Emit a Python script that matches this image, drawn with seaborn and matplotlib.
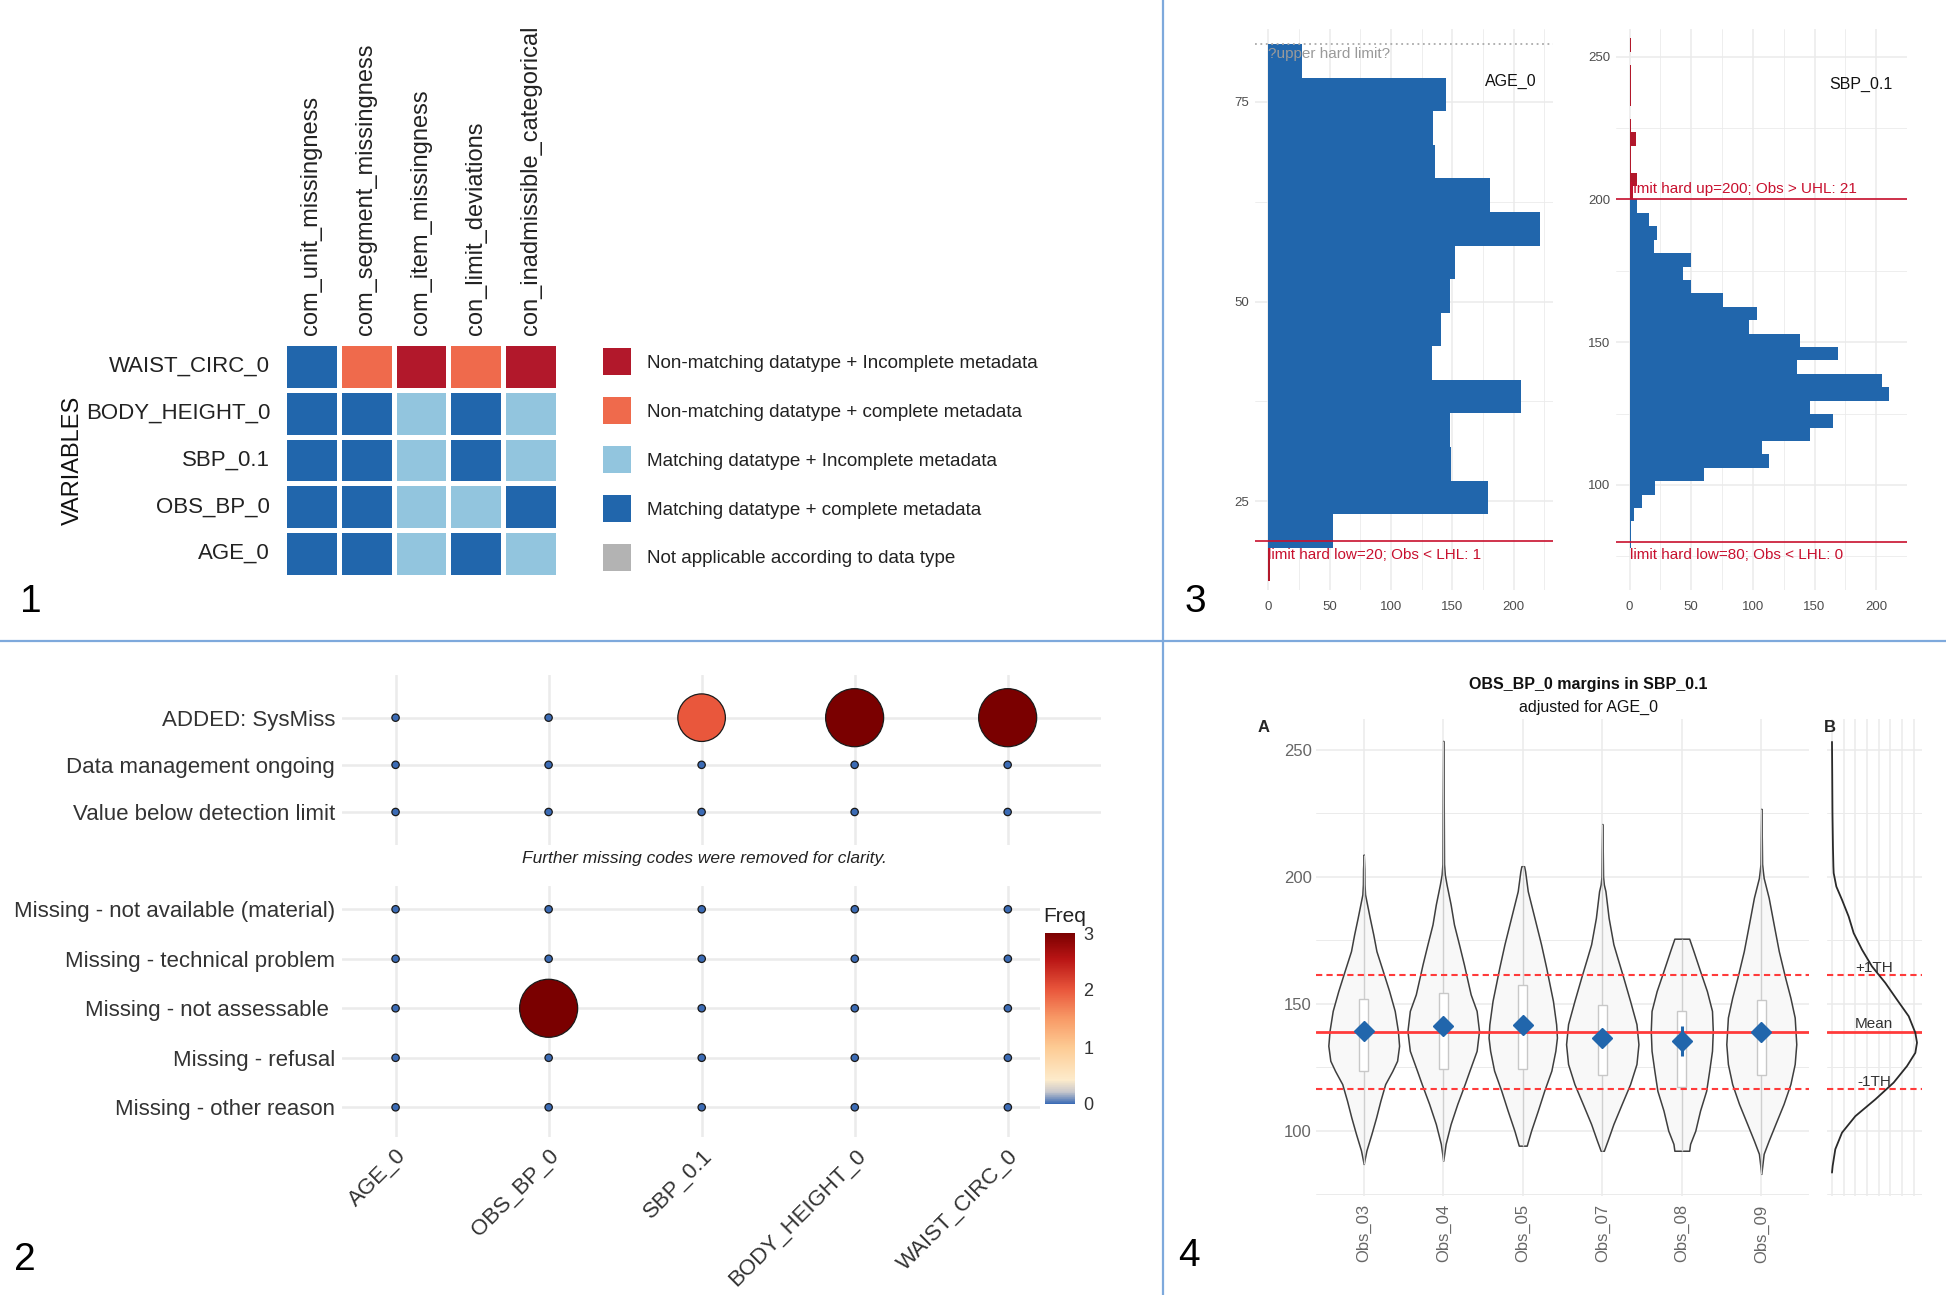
import numpy as np
import pandas as pd
import matplotlib
matplotlib.use("Agg")
import matplotlib.pyplot as plt
import seaborn as sns
from matplotlib.colors import ListedColormap, LinearSegmentedColormap, Normalize
from matplotlib.lines import Line2D
from matplotlib.patches import Patch
import matplotlib.cm as cm

# ---------------- DATA ----------------
# Panel 1: data-type / metadata status matrix
status_cols = ["com_unit_missingness", "com_segment_missingness", "com_item_missingness",
               "con_limit_deviations", "con_inadmissible_categorical"]
status_rows = ["WAIST_CIRC_0", "BODY_HEIGHT_0", "SBP_0.1", "OBS_BP_0", "AGE_0"]
status_codes = [[3, 1, 0, 1, 0],
                [3, 3, 2, 3, 2],
                [3, 3, 2, 3, 2],
                [3, 3, 2, 2, 3],
                [3, 3, 2, 3, 2]]
status_labels = ["Non-matching datatype + Incomplete metadata",
                 "Non-matching datatype + complete metadata",
                 "Matching datatype + Incomplete metadata",
                 "Matching datatype + complete metadata",
                 "Not applicable according to data type"]
status_colors = ["#B2182B", "#EF6A4C", "#92C5DE", "#2166AC", "#B3B3B3"]

# Panel 2: missing codes frequency
miss_vars = ["AGE_0", "OBS_BP_0", "SBP_0.1", "BODY_HEIGHT_0", "WAIST_CIRC_0"]
miss_codes_top = ["ADDED: SysMiss", "Data management ongoing", "Value below detection limit"]
miss_freq_top = [[0, 0, 2, 3, 3],
                 [0, 0, 0, 0, 0],
                 [0, 0, 0, 0, 0]]
miss_codes_bottom = ["Missing - not available (material)", "Missing - technical problem",
                     "Missing - not assessable ", "Missing - refusal", "Missing - other reason"]
miss_freq_bottom = [[0, 0, 0, 0, 0],
                    [0, 0, 0, 0, 0],
                    [0, 3, 0, 0, 0],
                    [0, 0, 0, 0, 0],
                    [0, 0, 0, 0, 0]]

# Panel 3: histograms
age_edges = [19.2, 23.4, 27.6, 31.8, 36.0, 40.2, 44.4, 48.6, 52.8, 57.0, 61.2, 65.4, 69.6, 73.8, 78.0, 82.2]
age_counts = [53, 179, 149, 148, 206, 133, 141, 148, 152, 221, 181, 136, 134, 145, 27]
age_low_edges = [15.0, 19.2]
age_low_counts = [1]
age_lhl, age_uhl_guess = 20, 82.2

sbp_edges_in = [77.8, 82.5, 87.2, 91.9, 96.6, 101.3, 106.0, 110.7, 115.4, 120.1, 124.8, 129.5, 134.2,
                138.9, 143.6, 148.3, 153.0, 157.7, 162.4, 167.1, 171.8, 176.5, 181.2, 185.9, 190.6,
                195.3, 200.0]
sbp_counts_in = [1, 1, 4, 10, 21, 60, 113, 107, 146, 165, 146, 210, 205, 136, 169, 138, 97, 103,
                 76, 50, 43, 50, 20, 22, 16, 6]
sbp_edges_out = [200.0, 204.7, 209.4, 214.1, 218.8, 223.5, 228.2, 232.9, 237.6, 242.3, 247.0, 251.7, 256.4]
sbp_counts_out = [3, 6, 1, 1, 5, 1, 0, 1, 1, 1, 0, 1]
sbp_lhl, sbp_uhl = 80, 200

# Panel 4: observer margins
obs_names = ["Obs_03", "Obs_04", "Obs_05", "Obs_07", "Obs_08", "Obs_09"]
obs_mean = [139.1, 141.2, 141.7, 136.7, 135.2, 138.8]
obs_ci = [2.4, 2.6, 2.6, 2.9, 5.9, 2.5]
obs_q1 = [123.4, 124.3, 124.3, 122.1, 117.4, 122.1]
obs_q3 = [151.8, 154.3, 157.4, 149.4, 147.2, 151.4]
violin_y = [
    [208.7, 203.0, 197.0, 193.0, 189.1, 183.8, 177.3, 170.7, 162.9, 155.0, 147.2, 139.3, 133.5, 127.6, 123.6, 118.4, 111.9, 105.3, 98.8, 92.3, 87.0],
    [253.4, 230.0, 205.0, 200.8, 196.9, 189.1, 181.2, 173.4, 165.5, 157.7, 153.7, 147.2, 139.3, 131.5, 123.7, 118.4, 110.6, 102.7, 94.9, 88.3],
    [204.1, 202.1, 194.3, 183.8, 173.4, 164.2, 157.7, 151.1, 141.9, 136.7, 131.5, 123.7, 115.8, 108.0, 100.1, 94.2],
    [220.7, 210.0, 200.0, 196.9, 194.3, 183.8, 173.4, 168.1, 160.3, 151.1, 142.0, 134.1, 126.3, 118.4, 110.6, 102.7, 96.2, 92.2],
    [175.6, 170.7, 162.9, 155.0, 147.2, 139.3, 131.5, 123.7, 115.8, 108.0, 100.1, 94.9, 92.2],
    [226.7, 215.0, 205.0, 202.1, 199.5, 191.7, 181.2, 170.7, 160.3, 152.4, 144.6, 134.1, 126.3, 118.4, 110.6, 102.7, 96.2, 91.0, 83.1],
]
violin_w = [
    [0.0, 0.008, 0.01, 0.017, 0.042, 0.076, 0.12, 0.16, 0.24, 0.32, 0.39, 0.43, 0.445, 0.42, 0.36, 0.27, 0.21, 0.156, 0.097, 0.034, 0.0],
    [0.0, 0.006, 0.01, 0.02, 0.042, 0.093, 0.135, 0.198, 0.26, 0.316, 0.345, 0.42, 0.45, 0.42, 0.33, 0.27, 0.177, 0.093, 0.03, 0.0],
    [0.017, 0.03, 0.063, 0.147, 0.23, 0.295, 0.337, 0.38, 0.42, 0.43, 0.41, 0.36, 0.27, 0.19, 0.105, 0.05],
    [0.0, 0.006, 0.01, 0.02, 0.04, 0.08, 0.14, 0.19, 0.265, 0.35, 0.43, 0.455, 0.43, 0.35, 0.245, 0.14, 0.067, 0.02],
    [0.093, 0.147, 0.23, 0.316, 0.38, 0.39, 0.38, 0.345, 0.307, 0.23, 0.17, 0.105, 0.093],
    [0.0, 0.006, 0.01, 0.02, 0.03, 0.093, 0.156, 0.22, 0.30, 0.366, 0.42, 0.44, 0.42, 0.366, 0.28, 0.177, 0.093, 0.03, 0.0],
]
overall_mean, th_upper, th_lower = 138.8, 161.2, 116.3
dens_y = [253.0, 240.0, 225.0, 212.0, 204.0, 201.4, 196.1, 190.9, 184.3, 177.8, 171.3, 164.7, 158.2,
          151.6, 145.1, 138.6, 134.7, 130.7, 125.5, 119.0, 112.4, 105.8, 99.3, 92.8, 86.2, 83.6]
dens_x = [0.0, 0.05, 0.1, 0.2, 0.3, 0.36, 0.93, 2.14, 3.57, 4.64, 6.42, 8.56, 11.42, 13.92, 16.42,
          17.84, 18.2, 17.84, 16.06, 13.2, 9.28, 5.0, 2.14, 0.71, 0.14, 0.0]

# ---------------- STYLE ----------------
sns.set_theme(style="white")
plt.rcParams["font.family"] = ["Liberation Sans", "DejaVu Sans"]

W, H = 1946, 1295
fig = plt.figure(figsize=(W / 100, H / 100), dpi=100)
BLUE = "#2166AC"
RED = "#B2182B"
GRID = "#EBEBEB"
TXT = "#4D4D4D"


def add_ax(x0, y0, x1, y1):
    return fig.add_axes([x0 / W, 1 - y1 / H, (x1 - x0) / W, (y1 - y0) / H])


def clean(ax):
    for s in ax.spines.values():
        s.set_visible(False)
    ax.tick_params(length=0)
    ax.set_xlabel("")
    ax.set_ylabel("")


# ---------------- PANEL 1 ----------------
ax1 = add_ax(284, 343, 558, 577)
status_df = pd.DataFrame(status_codes, index=status_rows, columns=status_cols)
sns.heatmap(status_df, ax=ax1, cmap=ListedColormap(status_colors), vmin=-0.5, vmax=4.5,
            cbar=False, linewidths=2.2, linecolor="white")
ax1.xaxis.tick_top()
ax1.set_xticklabels(status_cols, rotation=90, fontsize=17, color="#222222")
ax1.set_yticklabels(status_rows, rotation=0, fontsize=16, color="#222222")
ax1.tick_params(axis="x", length=0, pad=6)
ax1.tick_params(axis="y", length=0, pad=10)
ax1.set_xlabel("")
ax1.set_ylabel("VARIABLES", fontsize=17, color="#111111")
ax1.yaxis.set_label_coords(-0.73, 0.5)

fs = 13.6
em = fs * 100 / 72
sq = 27.5
hh = (sq / em - 0.245) / 0.65
handles = [Patch(facecolor=c, edgecolor="none") for c in status_colors]
leg = fig.legend(handles, status_labels, loc="upper left", bbox_to_anchor=(602.8 / W, 1 - 348 / H),
                 frameon=False, fontsize=fs, handlelength=28 / em, handleheight=hh,
                 handletextpad=16 / em, labelspacing=(48.9 - sq) / em, borderpad=0, borderaxespad=0)
for t in leg.get_texts():
    t.set_color("#222222")

# ---------------- PANEL 3 ----------------
def hist_panel(ax, edges, counts, red_edges, red_counts, xlim, ylim, yticks, yminor):
    centers = np.array(edges[:-1]) + np.diff(edges) / 2
    sns.histplot(y=centers, weights=counts, bins=edges, color=BLUE, alpha=1, linewidth=0, ax=ax)
    rc = np.array(red_edges[:-1]) + np.diff(red_edges) / 2
    sns.histplot(y=rc, weights=red_counts, bins=red_edges, color=RED, alpha=1, linewidth=0, ax=ax)
    ax.set_xlim(*xlim)
    ax.set_ylim(*ylim)
    ax.set_xticks([0, 50, 100, 150, 200])
    ax.set_xticks([25, 75, 125, 175, 225], minor=True)
    ax.set_yticks(yticks)
    ax.set_yticks(yminor, minor=True)
    ax.grid(True, which="major", color=GRID, lw=1.1)
    ax.grid(True, which="minor", color=GRID, lw=0.6)
    ax.set_axisbelow(True)
    clean(ax)
    ax.tick_params(which="both", length=0)
    ax.tick_params(axis="x", labelsize=9.5, labelcolor=TXT, pad=8)
    ax.tick_params(axis="y", labelsize=9.5, labelcolor=TXT, pad=4)


ax3a = add_ax(1255, 29, 1553, 590)
hist_panel(ax3a, age_edges, age_counts, age_low_edges, age_low_counts, (-11, 232), (13.9, 84.1),
           [25, 50, 75], [37.5, 62.5])
ax3a.axhline(age_lhl, color="#C8102E", lw=1.2, zorder=4)
ax3a.axhline(age_uhl_guess, color="#AAAAAA", lw=1.3, ls=(0, (1, 2)), zorder=4)
ax3a.text(0, age_uhl_guess - 0.3, "?upper hard limit?", color="#9A9A9A", fontsize=11, va="top", ha="left")
ax3a.text(219, 77.5, "AGE_0", color="#111111", fontsize=11.5, ha="right", va="center")
ax3a.text(0, age_lhl - 0.8, "limit hard low=20; Obs < LHL: 1", color="#C8102E", fontsize=11, va="top", ha="left")

ax3b = add_ax(1616, 29, 1907, 590)
hist_panel(ax3b, sbp_edges_in, sbp_counts_in, sbp_edges_out, sbp_counts_out, (-11, 221), (63.2, 259.7),
           [100, 150, 200, 250], [75, 125, 175, 225])
ax3b.axhline(sbp_uhl, color="#C8102E", lw=1.2, zorder=4)
ax3b.axhline(sbp_lhl, color="#C8102E", lw=1.2, zorder=4)
ax3b.text(0, sbp_uhl + 1.2, "limit hard up=200; Obs > UHL: 21", color="#C8102E", fontsize=11, va="bottom", ha="left")
ax3b.text(0, sbp_lhl - 2.2, "limit hard low=80; Obs < LHL: 0", color="#C8102E", fontsize=11, va="top", ha="left")
ax3b.text(213.5, 240.4, "SBP_0.1", color="#111111", fontsize=11.5, ha="right", va="center")

# ---------------- PANEL 2 ----------------
cmap_freq = LinearSegmentedColormap.from_list(
    "freq", [(0, "#3B6BB5"), (0.07, "#C9C8CC"), (0.14, "#FDEBCB"), (0.33, "#FDCB94"),
             (0.5, "#F89A66"), (0.667, "#E9573C"), (0.85, "#B81414"), (1, "#7A0000")])


def long_df(codes, freq):
    rows = []
    for i, c in enumerate(codes):
        for j, v in enumerate(miss_vars):
            rows.append(dict(code=c, var=v, Freq=freq[i][j]))
    return pd.DataFrame(rows)


def dot_panel(ax, codes, freq, xlim, ylim):
    df = long_df(codes, freq)
    sns.scatterplot(data=df, x="var", y="code", hue="Freq", size="Freq", hue_norm=(0, 3),
                    size_norm=(0, 3), sizes=(28, 1745), palette=cmap_freq, edgecolor="#1a1a1a",
                    linewidth=0.9, legend=False, ax=ax, zorder=3)
    ax.set_xlim(*xlim)
    ax.set_ylim(*ylim)
    ax.grid(True, color=GRID, lw=1.8)
    ax.set_axisbelow(True)
    clean(ax)
    ax.tick_params(axis="y", labelsize=16, labelcolor="#333333", pad=5)


ax2t = add_ax(342, 675, 1101, 845)
dot_panel(ax2t, miss_codes_top, miss_freq_top, (-0.35, 4.61), (2.70, -0.905))
ax2t.tick_params(axis="x", labelbottom=False)

ax2b = add_ax(342, 886, 1040, 1137)
dot_panel(ax2b, miss_codes_bottom, miss_freq_bottom, (-0.35, 4.21), (4.6, -0.47))
ax2b.tick_params(axis="x", labelsize=16, labelcolor="#333333", pad=6)
for lab in ax2b.get_xticklabels():
    lab.set_rotation(45)
    lab.set_ha("right")
    lab.set_va("top")
    lab.set_rotation_mode("anchor")

fig.text(704 / W, 1 - 859 / H, "Further missing codes were removed for clarity.", style="italic",
         fontsize=12.5, ha="center", va="center", color="#222222")

cax = add_ax(1045, 933, 1075, 1104)
cb = fig.colorbar(cm.ScalarMappable(norm=Normalize(0, 3), cmap=cmap_freq), cax=cax, ticks=[0, 1, 2, 3])
cb.outline.set_visible(False)
cax.tick_params(length=0, labelsize=13, labelcolor="#333333", pad=6)
fig.text(1043 / W, 1 - 916 / H, "Freq", fontsize=15, ha="left", va="center", color="#222222")

# ---------------- PANEL 4 ----------------
axA = add_ax(1316, 719, 1809, 1196)
pos = np.arange(len(obs_names))
for i in pos:
    vy = np.array(violin_y[i])
    vw = np.array(violin_w[i])
    axA.vlines(i, vy.min(), vy.max(), color="#CFCFCF", lw=1.0, zorder=2)
    axA.fill_betweenx(vy, i - vw, i + vw, facecolor="#F8F8F8", edgecolor="#3F3F3F", lw=1.1, zorder=1)
axA.bar(pos, np.array(obs_q3) - np.array(obs_q1), bottom=obs_q1, width=0.11, color="white",
        edgecolor="#C8C8C8", linewidth=1.0, zorder=3)
axA.axhline(overall_mean, color="#FF3B3B", lw=2.0, zorder=4)
axA.axhline(th_upper, color="#FF3B3B", lw=1.5, ls=(0, (3, 2)), zorder=4)
axA.axhline(th_lower, color="#FF3B3B", lw=1.5, ls=(0, (3, 2)), zorder=4)
axA.errorbar(pos, obs_mean, yerr=obs_ci, fmt="D", color=BLUE, ms=10, elinewidth=2.2, capsize=0, zorder=5)
axA.set_xlim(-0.6, 5.6)
axA.set_ylim(74.4, 262)
axA.set_xticks(pos)
axA.set_xticklabels(obs_names, rotation=90, fontsize=12, color="#666666")
axA.set_yticks([100, 150, 200, 250])
axA.set_yticks([75, 125, 175, 225], minor=True)
axA.grid(True, which="major", color=GRID, lw=1.1)
axA.grid(True, which="minor", axis="y", color=GRID, lw=0.7)
axA.set_axisbelow(True)
clean(axA)
axA.tick_params(which="both", length=0)
axA.tick_params(axis="y", labelsize=12, labelcolor="#666666", pad=3)
axA.tick_params(axis="x", pad=6)

axB = add_ax(1827, 719, 1922, 1196)
sns.lineplot(x=dens_x, y=dens_y, sort=False, estimator=None, color="#2A2A2A", lw=1.3, ax=axB, zorder=3)
axB.axhline(overall_mean, color="#FF3B3B", lw=2.0, zorder=2)
axB.axhline(th_upper, color="#FF3B3B", lw=1.5, ls=(0, (3, 2)), zorder=2)
axB.axhline(th_lower, color="#FF3B3B", lw=1.5, ls=(0, (3, 2)), zorder=2)
axB.set_xlim(-1.07, 19.27)
axB.set_ylim(74.4, 262)
axB.set_xticks([0, 2.5, 5, 7.5, 10, 12.5, 15, 17.5])
axB.set_yticks([100, 150, 200, 250])
axB.set_yticks([75, 125, 175, 225], minor=True)
axB.grid(True, which="major", color=GRID, lw=1.1)
axB.grid(True, which="minor", axis="y", color=GRID, lw=0.7)
axB.set_axisbelow(True)
clean(axB)
axB.tick_params(which="both", length=0, labelbottom=False, labelleft=False)
axB.text(9.0, th_upper + 0.3, "+1TH", fontsize=11, color="#333333", ha="center", va="bottom")
axB.text(9.0, overall_mean + 0.3, "Mean", fontsize=11, color="#333333", ha="center", va="bottom")
axB.text(9.0, th_lower + 0.3, "-1TH", fontsize=11, color="#333333", ha="center", va="bottom")

fig.text(1588.6 / W, 1 - 684 / H, "OBS_BP_0 margins in SBP_0.1", fontsize=11.5, fontweight="bold",
         ha="center", va="center", color="#111111")
fig.text(1588.6 / W, 1 - 707 / H, "adjusted for AGE_0", fontsize=11.5, ha="center", va="center",
         color="#111111")
fig.text(1264 / W, 1 - 728 / H, "A", fontsize=12, fontweight="bold", ha="center", va="center")
fig.text(1830 / W, 1 - 728 / H, "B", fontsize=12, fontweight="bold", ha="center", va="center")

# ---------------- DIVIDERS & PANEL NUMBERS ----------------
fig.add_artist(Line2D([1163 / W, 1163 / W], [0, 1], color="#7EA9DC", lw=1.6, transform=fig.transFigure))
fig.add_artist(Line2D([0, 1], [1 - 641 / H, 1 - 641 / H], color="#7EA9DC", lw=1.6, transform=fig.transFigure))
for txt, x, y in [("1", 31, 602), ("3", 1195, 602), ("2", 25, 1260), ("4", 1189, 1256)]:
    fig.text(x / W, 1 - y / H, txt, fontsize=28, ha="center", va="center", color="#000000")

fig.savefig("out.png", dpi=100, facecolor="white")
